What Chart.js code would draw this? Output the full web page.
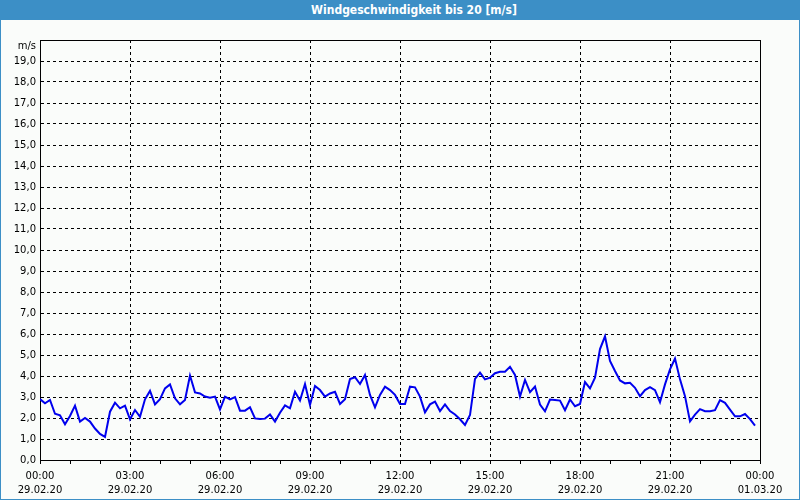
<!DOCTYPE html>
<html>
<head>
<meta charset="utf-8">
<script src="https://cdn.jsdelivr.net/npm/chart.js@4/dist/chart.umd.min.js"></script>
<style>
    body { margin: 0; }
    #frame {
        position: relative;
        width: 800px;
        height: 500px;
        box-sizing: border-box;
        background: #fafcfa;
        border: 1px solid #3c8fc6;
        border-top: none;
    }
    #title {
        position: absolute;
        left: -1px;
        top: 0;
        width: 800px;
        height: 20px;
        background: #3c8fc6;
        color: #fff;
        font: bold 12px "Liberation Sans Narrow", "DejaVu Sans Condensed", "Liberation Sans", sans-serif;
        line-height: 20px;
        text-align: center;
        text-indent: 28px;
    }
    #dataChart { position: absolute; left: -1px; top: 20px; }
</style>
</head>
<body>
<div id="frame">
    <div id="title">Windgeschwindigkeit bis 20 [m/s]</div>
    <canvas id="dataChart" width="800" height="480"></canvas>
</div>
<script>
// one value every 10 minutes, 00:00 .. 23:50
const windSpeed = [
    2.9, 2.7, 2.86, 2.2, 2.13, 1.7, 2.1, 2.59, 1.83, 2.0,
    1.83, 1.5, 1.24, 1.1, 2.3, 2.73, 2.46, 2.59, 1.94, 2.38,
    2.06, 2.89, 3.29, 2.65, 2.9, 3.41, 3.6, 2.94, 2.65, 2.86,
    4.02, 3.22, 3.17, 3.02, 2.97, 3.02, 2.41, 3.02, 2.89, 3.0,
    2.35, 2.35, 2.51, 1.98, 1.95, 1.97, 2.17, 1.83, 2.25, 2.6,
    2.46, 3.25, 2.83, 3.62, 2.62, 3.52, 3.33, 3.02, 3.17, 3.25,
    2.67, 2.89, 3.86, 3.94, 3.62, 4.05, 3.1, 2.51, 3.1, 3.49,
    3.33, 3.1, 2.67, 2.67, 3.49, 3.46, 3.02, 2.27, 2.65, 2.78,
    2.33, 2.65, 2.33, 2.17, 1.94, 1.67, 2.14, 3.86, 4.16, 3.84,
    3.92, 4.13, 4.2, 4.2, 4.44, 4.05, 3.02, 3.81, 3.23, 3.5,
    2.64, 2.32, 2.88, 2.86, 2.83, 2.37, 2.88, 2.56, 2.67, 3.71,
    3.41, 3.92, 5.28, 5.89, 4.72, 4.24, 3.79, 3.65, 3.68, 3.44,
    3.04, 3.33, 3.47, 3.33, 2.75, 3.6, 4.32, 4.83, 3.84, 3.04,
    1.84, 2.16, 2.42, 2.32, 2.32, 2.37, 2.85, 2.72, 2.4, 2.08,
    2.08, 2.19, 1.95, 1.64
];
const timeLabels = ['00:00', '03:00', '06:00', '09:00', '12:00', '15:00', '18:00', '21:00', '00:00'];
const dateLabels = ['29.02.20', '29.02.20', '29.02.20', '29.02.20', '29.02.20', '29.02.20', '29.02.20', '29.02.20', '01.03.20'];
const unitLabel = 'm/s';

const stepsPerHour = 6;
const stepsPerLabel = 18;
const tickFont = { family: '"DejaVu Sans", sans-serif', size: 10, lineHeight: 1.45 };

// solid frame round the plot, unit text above the y labels
const framePlugin = {
    id: 'frame',
    beforeDatasetsDraw(chart) {
        const { ctx, chartArea } = chart;
        ctx.save();
        ctx.strokeStyle = '#000';
        ctx.lineWidth = 1;
        ctx.strokeRect(chartArea.left + 0.5, chartArea.top + 0.5, chartArea.width, chartArea.height);
        ctx.fillStyle = '#000';
        ctx.font = '10px "DejaVu Sans", sans-serif';
        ctx.textAlign = 'right';
        ctx.textBaseline = 'middle';
        ctx.fillText(unitLabel, chartArea.left - 4, chartArea.top + 6);
        ctx.restore();
    }
};

function createDataChart() {
    const points = windSpeed.map((v, i) => ({ x: i, y: v }));
    const canvas = document.getElementById('dataChart');

    return new Chart(canvas, {
        type: 'line',
        data: {
            datasets: [{
                data: points,
                borderColor: '#0000ee',
                borderWidth: 2,
                pointRadius: 0,
                tension: 0
            }]
        },
        options: {
            responsive: false,
            animation: false,
            layout: { padding: { top: 20, right: 40, left: 0, bottom: 0 } },
            plugins: { legend: { display: false }, tooltip: { enabled: false } },
            scales: {
                x: {
                    type: 'linear',
                    min: 0,
                    max: 24 * stepsPerHour,
                    afterFit: (s) => { s.height = 40; },
                    ticks: {
                        stepSize: stepsPerHour,
                        autoSkip: false,
                        maxRotation: 0,
                        padding: 5,
                        color: '#000',
                        font: tickFont,
                        callback: (v) => {
                            if (v % stepsPerLabel !== 0) return '';
                            const k = v / stepsPerLabel;
                            return [timeLabels[k], dateLabels[k]];
                        }
                    },
                    grid: {
                        color: (c) => (c.tick && c.tick.value % stepsPerLabel === 0) ? '#000' : 'rgba(0,0,0,0)',
                        tickColor: '#000',
                        tickBorderDash: [],
                        tickLength: 4,
                        drawTicks: true
                    },
                    border: { color: '#000', dash: [3, 3] }
                },
                y: {
                    min: 0,
                    max: 20,
                    afterFit: (s) => { s.width = 40; },
                    ticks: {
                        stepSize: 1,
                        padding: 4,
                        color: '#000',
                        font: tickFont,
                        callback: (v) => v === 20 ? '' : v.toFixed(1).replace('.', ',')
                    },
                    grid: {
                        color: '#000',
                        drawTicks: false
                    },
                    border: { color: '#000', dash: [3, 3] }
                }
            }
        },
        plugins: [framePlugin]
    });
}

createDataChart();
</script>
</body>
</html>
